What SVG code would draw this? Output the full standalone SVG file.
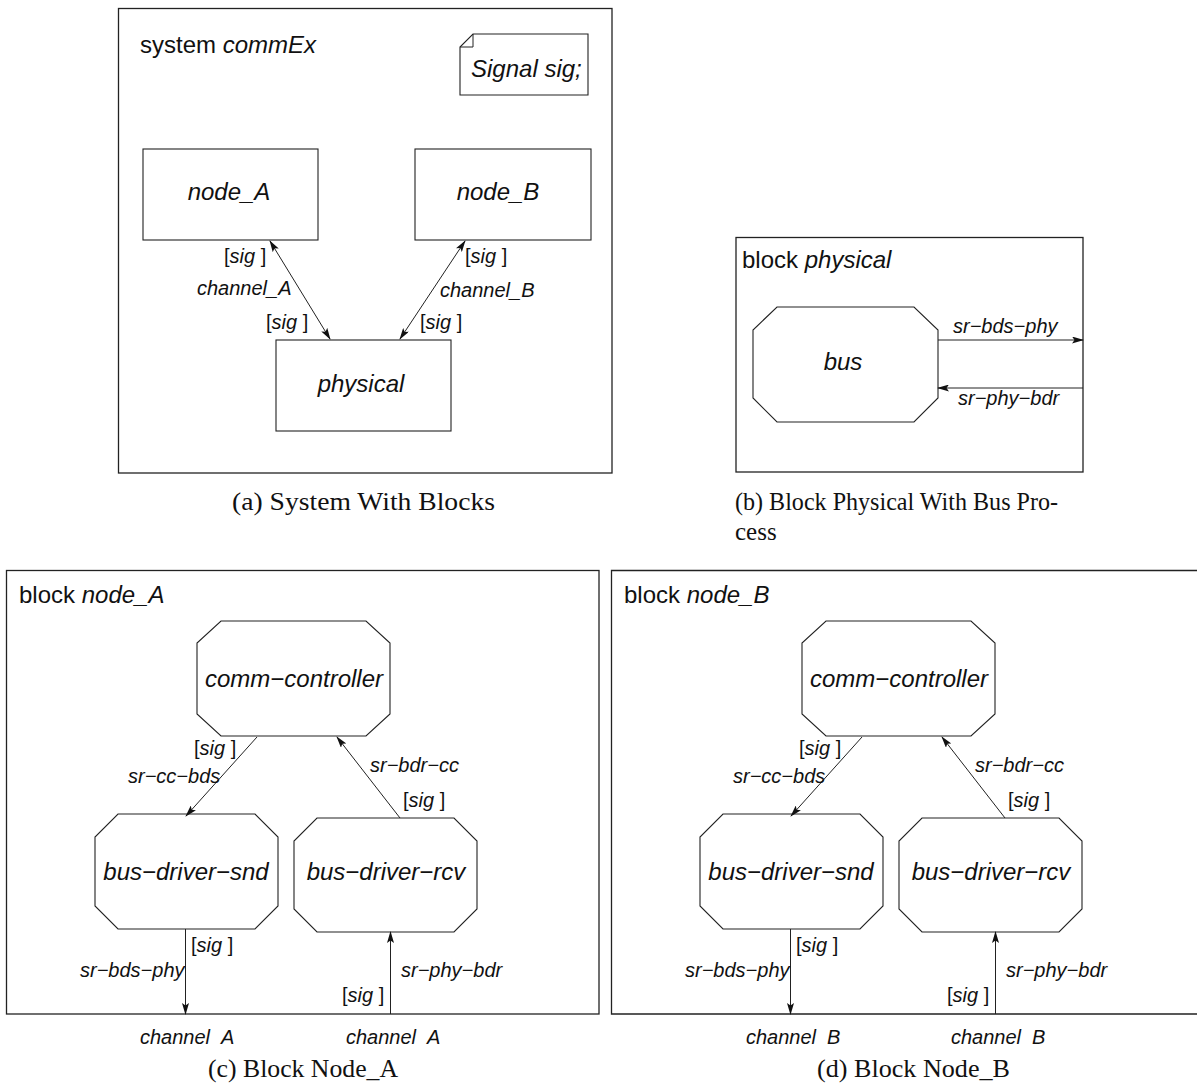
<svg xmlns="http://www.w3.org/2000/svg" width="1197" height="1090" viewBox="0 0 1197 1090">
  <style>
    .frame { fill: none; stroke: #222; stroke-width: 1.3; }
    .node { fill: #fff; stroke: #222; stroke-width: 1.1; }
    .conn { fill: none; stroke: #222; stroke-width: 1; }
    .t { font-family: "Liberation Sans", Arial, sans-serif; fill: #111; }
    .it { font-style: italic; }
    .big { font-size: 24px; }
    .lbl { font-size: 20px; }
    .cap { font-family: "Liberation Serif", "Times New Roman", serif; font-size: 25px; fill: #111; }
  </style>
  <defs>
    <marker id="arr" viewBox="0 0 12 7" refX="11" refY="3.5" markerWidth="12" markerHeight="7" markerUnits="userSpaceOnUse" orient="auto-start-reverse">
      <path d="M0,0 L12,3.5 L0,7 L2.5,3.5 Z" fill="#111"/>
    </marker>
  </defs>

  <rect width="1197" height="1090" fill="#fff"/>

  <!-- (a) system commEx -->
  <g id="system-commEx">
    <rect class="frame" x="118.5" y="8.5" width="493.5" height="464.5"/>
    <text class="t big" x="140" y="53">system <tspan class="it">commEx</tspan></text>
  </g>
  <g id="signal-note">
    <path class="node" d="M473,34 L588,34 L588,95 L460,95 L460,47 Z"/>
    <path class="conn" d="M460,47 L473,47 L473,34"/>
    <text class="t it big" x="471" y="77">Signal sig;</text>
  </g>
  <g id="node_A">
    <rect class="node" x="143" y="149" width="175" height="91"/>
    <text class="t it big" x="229" y="200" text-anchor="middle">node_A</text>
  </g>
  <g id="node_B">
    <rect class="node" x="415" y="149" width="176" height="91"/>
    <text class="t it big" x="498" y="200" text-anchor="middle">node_B</text>
  </g>
  <g id="physical">
    <rect class="node" x="276" y="340" width="175" height="91"/>
    <text class="t it big" x="361" y="392" text-anchor="middle">physical</text>
  </g>
  <g id="channels-a">
    <line class="conn" x1="270" y1="241" x2="330" y2="339" marker-start="url(#arr)" marker-end="url(#arr)"/>
    <line class="conn" x1="465" y1="241" x2="400" y2="339" marker-start="url(#arr)" marker-end="url(#arr)"/>
    <text class="t lbl" x="224" y="263">[<tspan class="it">sig</tspan> ]</text>
    <text class="t it lbl" x="197" y="295">channel_A</text>
    <text class="t lbl" x="266" y="329">[<tspan class="it">sig</tspan> ]</text>
    <text class="t lbl" x="465" y="263">[<tspan class="it">sig</tspan> ]</text>
    <text class="t it lbl" x="440" y="297">channel_B</text>
    <text class="t lbl" x="420" y="329">[<tspan class="it">sig</tspan> ]</text>
  </g>
  <text class="cap" x="232" y="510" textLength="263" lengthAdjust="spacingAndGlyphs">(a) System With Blocks</text>

  <!-- (b) block physical -->
  <g id="block-physical">
    <rect class="frame" x="736" y="237.5" width="347" height="234.5"/>
    <text class="t big" x="742" y="268">block <tspan class="it">physical</tspan></text>
  </g>
  <g id="bus">
    <polygon class="node" points="777,307 914,307 938,330 938,398 914,422 777,422 753,398 753,330"/>
    <text class="t it big" x="843" y="370" text-anchor="middle">bus</text>
  </g>
  <g id="signalroutes-b">
    <line class="conn" x1="938" y1="340" x2="1083" y2="340" marker-end="url(#arr)"/>
    <line class="conn" x1="1083" y1="388" x2="938" y2="388" marker-end="url(#arr)"/>
    <text class="t it lbl" x="953" y="333">sr−bds−phy</text>
    <text class="t it lbl" x="958" y="405">sr−phy−bdr</text>
  </g>
  <text class="cap" x="735" y="510" textLength="323" lengthAdjust="spacingAndGlyphs">(b) Block Physical With Bus Pro-</text>
  <text class="cap" x="735" y="540">cess</text>

  <!-- (c) block node_A -->
  <g id="block-node_A">
    <rect class="frame" x="6.5" y="570.5" width="592.5" height="443.5"/>
    <text class="t big" x="19" y="603">block <tspan class="it">node_A</tspan></text>
  </g>
  <g id="a-comm-controller">
    <polygon class="node" points="221,621 366,621 390,643 390,714 366,736 221,736 197,714 197,643"/>
    <text class="t it big" x="294" y="687" text-anchor="middle">comm−controller</text>
  </g>
  <g id="a-bus-driver-snd">
    <polygon class="node" points="118,814 255,814 278,837 278,906 255,929 118,929 95,906 95,837"/>
    <text class="t it big" x="186" y="880" text-anchor="middle">bus−driver−snd</text>
  </g>
  <g id="a-bus-driver-rcv">
    <polygon class="node" points="317,818 454,818 477,841 477,909 454,932 317,932 294,909 294,841"/>
    <text class="t it big" x="386" y="880" text-anchor="middle">bus−driver−rcv</text>
  </g>
  <g id="signalroutes-c">
    <line class="conn" x1="257" y1="737" x2="186" y2="816" marker-end="url(#arr)"/>
    <line class="conn" x1="400" y1="818" x2="337" y2="737" marker-end="url(#arr)"/>
    <line class="conn" x1="185.5" y1="929" x2="185.5" y2="1014" marker-end="url(#arr)"/>
    <line class="conn" x1="390.5" y1="1014" x2="390.5" y2="932" marker-end="url(#arr)"/>
    <text class="t lbl" x="194" y="755">[<tspan class="it">sig</tspan> ]</text>
    <text class="t it lbl" x="128" y="783">sr−cc−bds</text>
    <text class="t it lbl" x="370" y="772">sr−bdr−cc</text>
    <text class="t lbl" x="403" y="807">[<tspan class="it">sig</tspan> ]</text>
    <text class="t lbl" x="191" y="952">[<tspan class="it">sig</tspan> ]</text>
    <text class="t it lbl" x="80" y="977">sr−bds−phy</text>
    <text class="t it lbl" x="401" y="977">sr−phy−bdr</text>
    <text class="t lbl" x="342" y="1002">[<tspan class="it">sig</tspan> ]</text>
    <text class="t it lbl" x="140" y="1044">channel<tspan dx="11">A</tspan></text>
    <text class="t it lbl" x="346" y="1044">channel<tspan dx="11">A</tspan></text>
  </g>
  <text class="cap" x="208" y="1077" textLength="190" lengthAdjust="spacingAndGlyphs">(c) Block Node_A</text>

  <!-- (d) block node_B -->
  <g id="block-node_B">
    <path class="frame" d="M1200,570.5 L611.5,570.5 L611.5,1014 L1200,1014"/>
    <text class="t big" x="624" y="603">block <tspan class="it">node_B</tspan></text>
  </g>
  <g id="b-comm-controller">
    <polygon class="node" points="826,621 971,621 995,643 995,714 971,736 826,736 802,714 802,643"/>
    <text class="t it big" x="899" y="687" text-anchor="middle">comm−controller</text>
  </g>
  <g id="b-bus-driver-snd">
    <polygon class="node" points="723,814 860,814 883,837 883,906 860,929 723,929 700,906 700,837"/>
    <text class="t it big" x="791" y="880" text-anchor="middle">bus−driver−snd</text>
  </g>
  <g id="b-bus-driver-rcv">
    <polygon class="node" points="922,818 1059,818 1082,841 1082,909 1059,932 922,932 899,909 899,841"/>
    <text class="t it big" x="991" y="880" text-anchor="middle">bus−driver−rcv</text>
  </g>
  <g id="signalroutes-d">
    <line class="conn" x1="862" y1="737" x2="791" y2="816" marker-end="url(#arr)"/>
    <line class="conn" x1="1005" y1="818" x2="942" y2="737" marker-end="url(#arr)"/>
    <line class="conn" x1="790.5" y1="929" x2="790.5" y2="1014" marker-end="url(#arr)"/>
    <line class="conn" x1="995.5" y1="1014" x2="995.5" y2="932" marker-end="url(#arr)"/>
    <text class="t lbl" x="799" y="755">[<tspan class="it">sig</tspan> ]</text>
    <text class="t it lbl" x="733" y="783">sr−cc−bds</text>
    <text class="t it lbl" x="975" y="772">sr−bdr−cc</text>
    <text class="t lbl" x="1008" y="807">[<tspan class="it">sig</tspan> ]</text>
    <text class="t lbl" x="796" y="952">[<tspan class="it">sig</tspan> ]</text>
    <text class="t it lbl" x="685" y="977">sr−bds−phy</text>
    <text class="t it lbl" x="1006" y="977">sr−phy−bdr</text>
    <text class="t lbl" x="947" y="1002">[<tspan class="it">sig</tspan> ]</text>
    <text class="t it lbl" x="746" y="1044">channel<tspan dx="11">B</tspan></text>
    <text class="t it lbl" x="951" y="1044">channel<tspan dx="11">B</tspan></text>
  </g>
  <text class="cap" x="817" y="1077" textLength="193" lengthAdjust="spacingAndGlyphs">(d) Block Node_B</text>
</svg>
